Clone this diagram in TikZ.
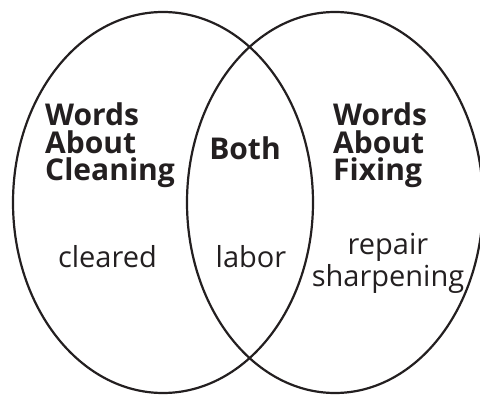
\documentclass[tikz,border=0pt]{standalone}
\usepackage{fontspec}
\setmainfont{Open Sans}
\definecolor{ink}{HTML}{231F20}
\begin{document}
\begin{tikzpicture}[x=1pt,y=-1pt,
  ring/.style={draw=ink,line width=2.2pt},
  head/.style={font=\bfseries\fontsize{30}{27.5}\selectfont,text=ink,inner sep=0pt,align=left,anchor=base west},
  word/.style={font=\fontsize{29}{32}\selectfont,text=ink,inner sep=0pt,align=center,anchor=base}]
\useasboundingbox (0,0) rectangle (480,395);
\draw[ring] (163,202.5) ellipse [x radius=150, y radius=190.5];
\draw[ring] (335,202.5) ellipse [x radius=148, y radius=190.5];
\node[head] (cl) at (45,181) {Words\\About\\Cleaning};
\node[head] (fx) at (333,181) {Words\\About\\Fixing};
\node[head,anchor=base] (both) at (245,160) {Both};
\node[word] (clw) at (107.5,268) {cleared};
\node[word] (lab) at (251,268) {labor};
\node[word] (fxw) at (388,287) {repair\\sharpening};
\end{tikzpicture}
\end{document}
